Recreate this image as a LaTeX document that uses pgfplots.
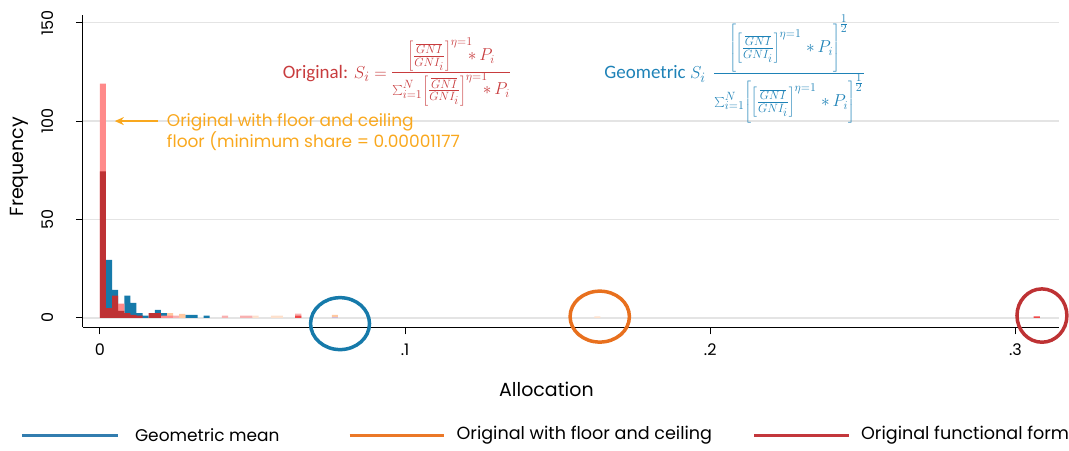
\documentclass[border=0pt]{standalone}
\usepackage{pgfplots}
\pgfplotsset{compat=1.18}
\usepackage{fontspec}
\setmainfont{Poppins}
\newfontfamily\calib{Carlito}
\usetikzlibrary{arrows.meta}

\definecolor{cblue}{RGB}{22,122,170}
\definecolor{cred}{RGB}{190,50,52}
\definecolor{cpink}{RGB}{255,138,138}
\definecolor{clpink}{RGB}{248,176,176}
\definecolor{cpeach}{RGB}{255,200,160}
\definecolor{clpeach}{RGB}{253,224,204}
\definecolor{cbred}{RGB}{240,72,72}
\definecolor{clav}{RGB}{205,185,215}
\definecolor{gridgray}{RGB}{228,228,228}
\definecolor{amber}{RGB}{249,168,30}
\definecolor{fred}{RGB}{200,60,62}
\definecolor{fblue}{RGB}{30,130,183}
\definecolor{lblue}{RGB}{50,125,175}
\definecolor{lorange}{RGB}{235,120,40}
\definecolor{lred}{RGB}{195,55,60}
\definecolor{corange}{RGB}{232,112,30}

\newcommand{\gni}{\left[\frac{\overline{GNI}}{GNI_i}\right]^{\eta=1}}

\begin{document}
\begin{tikzpicture}
\begin{axis}[
    name=ax,
    scale only axis,
    width=977pt, height=312.7pt,
    xmin=-0.00556, xmax=0.3142,
    ymin=-4.77, ymax=153.9,
    axis x line*=bottom, axis y line*=left,
    axis line style={line width=1pt, black},
    tick align=outside,
    major tick length=7pt,
    tick style={line width=1pt, black},
    xtick={0,0.1,0.2,0.3}, xticklabels={0,.1,.2,.3},
    ytick={0,50,100,150},
    ymajorgrids,
    grid style={line width=1.2pt, gridgray},
    /pgf/number format/assume math mode=true,
    ticklabel style={font=\fontsize{16}{18}\selectfont},
    yticklabel style={rotate=90, anchor=south, inner sep=0pt},
    yticklabel shift=22pt,
    xticklabel style={anchor=north, inner sep=0pt},
    xticklabel shift=9pt,
    xlabel={Allocation},
    ylabel={Frequency},
    label style={font=\fontsize{19}{21}\selectfont},
    xlabel style={at={(axis description cs:0.475,-0.198)}, anchor=center},
    ylabel style={at={(axis description cs:-0.0655,0.514)}, anchor=center},
    clip=false,
]

% geometric mean
\addplot[ybar, bar width=0.002, bar shift=0pt, fill=cblue, draw=none] coordinates {
    (0.003,29.5) (0.005,14.3) (0.009,11.3) (0.011,7.6) (0.013,2.4) (0.015,1.2)
    (0.019,4.1) (0.021,2.4) (0.029,1.5) (0.031,1.5) (0.035,1.2)
};
% floor and ceiling
\addplot[ybar, bar width=0.002, bar shift=0pt, fill=cpeach, draw=none] coordinates {
    (0.023,2.5) (0.027,2.0) (0.077,1.6)
};
\addplot[ybar, bar width=0.002, bar shift=0pt, fill=clpeach, draw=none] coordinates {
    (0.051,1.2) (0.057,1.2) (0.059,1.2) (0.163,0.8)
};
\addplot[ybar, bar width=0.002, bar shift=0pt, fill=clav, draw=none] coordinates {
    (0.077,0.5)
};
% original, light
\addplot[ybar, bar width=0.002, bar shift=0pt, fill=cpink, draw=none] coordinates {
    (0.001,119) (0.007,7.3) (0.021,1.2) (0.023,1.2)
};
\addplot[ybar, bar width=0.002, bar shift=0pt, fill=clpink, draw=none] coordinates {
    (0.025,1.2) (0.041,1.2) (0.047,1.2) (0.049,1.2) (0.065,2.2)
};
% original functional form
\addplot[ybar, bar width=0.002, bar shift=0pt, fill=cred, draw=none] coordinates {
    (0.001,74.5) (0.003,5.0) (0.005,11.3) (0.007,3.6) (0.009,2.4) (0.011,1.5)
    (0.013,1.2) (0.017,2.4) (0.019,2.4)
};
\addplot[ybar, bar width=0.002, bar shift=0pt, fill=cbred, draw=none] coordinates {
    (0.065,1.2) (0.307,0.8)
};

% arrow and circles
\draw[amber, line width=2pt, -{Stealth[length=9pt,width=8pt]}]
    (axis cs:0.0191,100) -- (axis cs:0.0049,100);
\draw[cblue, line width=3.5pt] (axis cs:0.0787,-2.9) ellipse [x radius=29.5pt, y radius=26pt];
\draw[corange, line width=3.5pt] (axis cs:0.1638,0.66) ellipse [x radius=29.7pt, y radius=25.5pt];
\draw[cred, line width=3.5pt] (axis cs:0.3087,1.2) ellipse [x radius=25pt, y radius=26.7pt];
\end{axis}

\begin{scope}[shift={([xshift=-83pt,yshift=327.7pt]ax.south west)}, x=1pt, y=-1pt]
\pgfresetboundingbox
\path (0,0) rectangle (1069,451);

% annotations
\node[anchor=north west, inner sep=0pt, align=left, text=amber,
      font=\fontsize{17}{19}\selectfont] at (167,113)
    {Original with floor and ceiling\\floor (minimum share = 0.00001177};

\node[anchor=west, inner sep=0pt, text=fred, font=\fontsize{19}{22}\selectfont] at (283,72)
    {\calib Original: $S_i =$ {\fontsize{24}{28}\selectfont
     $\frac{\gni\mkern-5mu*\,P_i}{\sum_{i=1}^{N}\gni\mkern-5mu*\,P_i}$}};

\node[anchor=west, inner sep=0pt, text=fblue, font=\fontsize{19}{22}\selectfont] at (605,69)
    {\calib Geometric $S_i$\, {\fontsize{23}{27}\selectfont
     $\frac{\left[\rule[-3pt]{0pt}{33pt}\gni\;*\,P_i\right]^{\frac{1}{2}}}
     {\sum_{i=1}^{N}\left[\rule[-16pt]{0pt}{30pt}\gni\;*\,P_i\right]^{\frac{1}{2}}}$}};

% legend
\draw[lblue, line width=3pt] (22,436) -- (118,436);
\node[anchor=west, inner sep=0pt, font=\fontsize{17}{19}\selectfont] at (135,436) {Geometric mean};
\draw[lorange, line width=3pt] (350,436) -- (445,436);
\node[anchor=west, inner sep=0pt, font=\fontsize{17.6}{19}\selectfont] at (457,436) {Original with floor and ceiling};
\draw[lred, line width=3pt] (755,436) -- (850,436);
\node[anchor=west, inner sep=0pt, font=\fontsize{17.6}{19}\selectfont] at (862,436) {Original functional form};
\end{scope}
\end{tikzpicture}
\end{document}
